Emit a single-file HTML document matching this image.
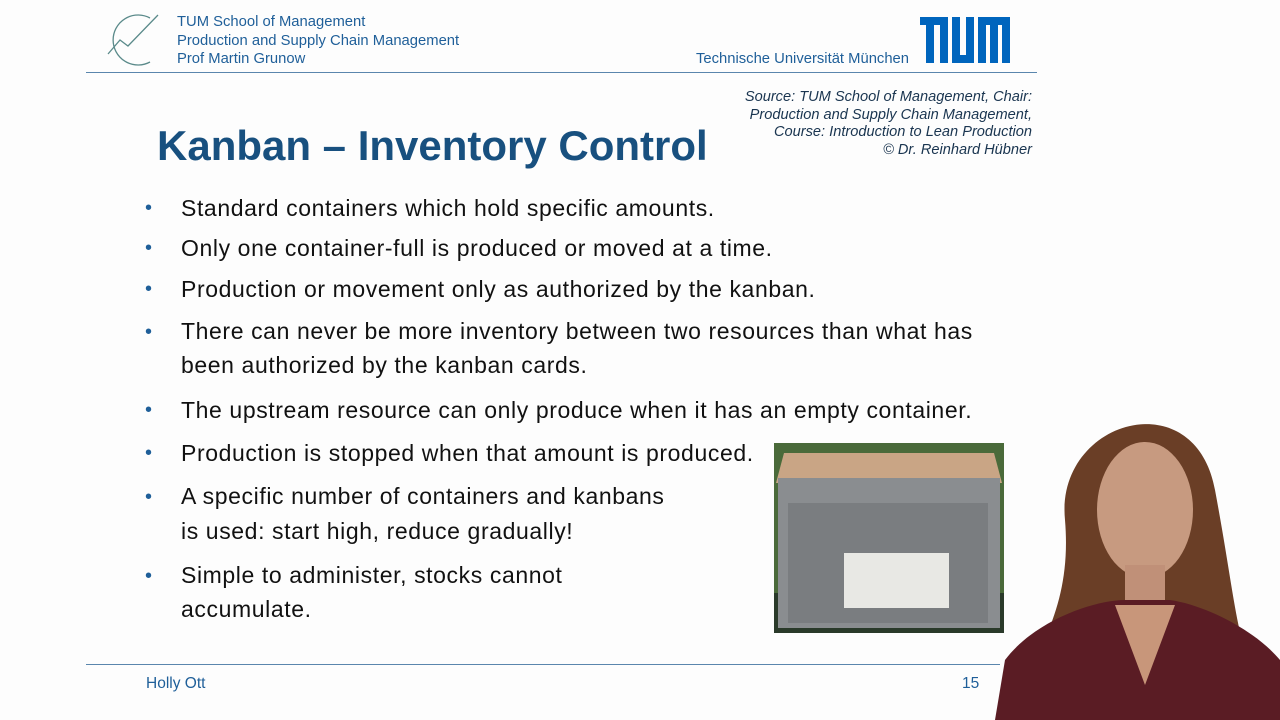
<!DOCTYPE html>
<html><head><meta charset="utf-8"><style>
body{margin:0;width:1280px;height:720px;background:#fdfdfd;position:relative;overflow:hidden;font-family:"Liberation Sans",sans-serif}
.a{position:absolute;white-space:nowrap}
.hd{color:#1f5f99;font-size:14.8px;line-height:18.5px}
.b{font-size:23px;letter-spacing:0.6px;color:#111;left:181px}
.d{font-size:20px;color:#1f5f99;left:145px}
.src{right:248px;font-size:14.6px;font-style:italic;color:#1a3550;text-align:right;line-height:17.5px}
</style></head><body>
<svg class="a" style="left:106px;top:10px" width="60" height="60">
<path d="M44 8 A25 25 0 1 0 44 52" fill="none" stroke="#5a8a8a" stroke-width="1.3"/>
<polyline points="2,44 14,30 22,36 52,5" fill="none" stroke="#5a8a8a" stroke-width="1.3"/></svg>
<div class="a hd" style="left:177px;top:13px">TUM School of Management<br>Production and Supply Chain Management<br>Prof Martin Grunow</div>
<div class="a hd" style="left:696px;top:50px">Technische Universität München</div>
<svg class="a" style="left:920px;top:17px" width="90" height="46">
<path d="M0 0H28V46H20V8H14V46H6V8H0Z M32 0H40V38H46V0H54V46H32Z M58 0H90V46H82V8H78V46H70V8H66V46H58Z" fill="#0065bd"/></svg>
<div class="a" style="left:86px;top:72px;width:951px;height:1px;background:#5a86ad"></div>
<div class="a src" style="top:89px">Source: TUM School of Management, Chair:<br>Production and Supply Chain Management,<br>Course: Introduction to Lean Production<br>© Dr. Reinhard Hübner</div>
<div class="a" style="left:157px;top:122px;font-size:42px;font-weight:bold;color:#18507f">Kanban – Inventory Control</div>
<div>
<div class="a d" style="top:197px">•</div><div class="a b" style="top:195px">Standard containers which hold specific amounts.</div>
<div class="a d" style="top:237px">•</div><div class="a b" style="top:235px">Only one container-full is produced or moved at a time.</div>
<div class="a d" style="top:278px">•</div><div class="a b" style="top:276px">Production or movement only as authorized by the kanban.</div>
<div class="a d" style="top:321px">•</div><div class="a b" style="top:314px;line-height:34px">There can never be more inventory between two resources than what has<br>been authorized by the kanban cards.</div>
<div class="a d" style="top:399px">•</div><div class="a b" style="top:397px">The upstream resource can only produce when it has an empty container.</div>
<div class="a d" style="top:442px">•</div><div class="a b" style="top:440px">Production is stopped when that amount is produced.</div>
<div class="a d" style="top:486px">•</div><div class="a b" style="top:479px;line-height:35px">A specific number of containers and kanbans<br>is used: start high, reduce gradually!</div>
<div class="a d" style="top:565px">•</div><div class="a b" style="top:558px;line-height:34px">Simple to administer, stocks cannot<br>accumulate.</div>
</div>
<svg class="a" style="left:774px;top:443px" width="230" height="190">
<rect width="230" height="190" fill="#4a6a3a"/><rect y="150" width="230" height="40" fill="#2a3a2a"/>
<polygon points="10,10 220,10 228,40 2,40" fill="#c9a585"/>
<rect x="4" y="35" width="222" height="150" fill="#8a8d90"/>
<rect x="14" y="60" width="200" height="120" fill="#7a7d80"/>
<rect x="70" y="110" width="105" height="55" fill="#e8e8e4"/></svg>
<svg class="a" style="left:995px;top:400px" width="285" height="320">
<path d="M70 120 C60 20 200 -20 220 90 C235 170 240 220 250 250 L40 260 C60 220 75 180 70 120Z" fill="#6a3e26"/>
<ellipse cx="150" cy="110" rx="48" ry="68" fill="#c79a80"/>
<rect x="130" y="165" width="40" height="40" fill="#c09078"/>
<path d="M0 320 L10 260 C40 220 100 200 130 200 L175 200 C210 205 260 230 285 260 L285 320Z" fill="#5a1c24"/>
<path d="M120 205 L150 285 L180 205Z" fill="#c8967a"/></svg>
<div class="a" style="left:86px;top:664px;width:914px;height:1px;background:#5a86ad"></div>
<div class="a" style="left:146px;top:675px;font-size:15.5px;color:#1f5f99">Holly Ott</div>
<div class="a" style="left:962px;top:675px;font-size:15.5px;color:#1f5f99">15</div>
</body></html>
